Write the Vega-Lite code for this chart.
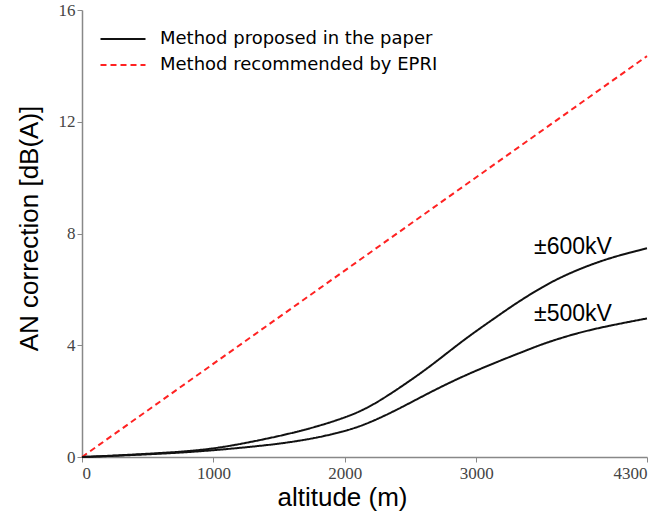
{
  "$schema": "https://vega.github.io/schema/vega-lite/v6.json",
  "width": 565,
  "height": 447,
  "autosize": {"type": "none"},
  "padding": {"left": 82, "top": 10, "right": 24, "bottom": 58},
  "background": "white",
  "config": {
    "view": {"stroke": null},
    "axis": {
      "grid": false,
      "domainColor": "#888888",
      "domainWidth": 1.5,
      "tickColor": "#888888",
      "tickSize": 5,
      "labelFont": "Liberation Serif",
      "labelFontSize": 17,
      "labelColor": "#444444",
      "titleFont": "Liberation Sans",
      "titleFontSize": 26,
      "titleFontWeight": "normal",
      "titleColor": "#000000"
    }
  },
  "layer": [
    {
      "data": {
        "values": [
          {"alt": 0, "val": 0, "method": "Method recommended by EPRI", "v": "EPRI"},
          {"alt": 4300, "val": 14.35, "method": "Method recommended by EPRI", "v": "EPRI"},
          {"alt": 0, "val": 0, "method": "Method proposed in the paper", "v": "600"},
          {"alt": 250, "val": 0.05, "method": "Method proposed in the paper", "v": "600"},
          {"alt": 518, "val": 0.12, "method": "Method proposed in the paper", "v": "600"},
          {"alt": 771, "val": 0.19, "method": "Method proposed in the paper", "v": "600"},
          {"alt": 1025, "val": 0.31, "method": "Method proposed in the paper", "v": "600"},
          {"alt": 1279, "val": 0.53, "method": "Method proposed in the paper", "v": "600"},
          {"alt": 1533, "val": 0.78, "method": "Method proposed in the paper", "v": "600"},
          {"alt": 1786, "val": 1.08, "method": "Method proposed in the paper", "v": "600"},
          {"alt": 2041, "val": 1.47, "method": "Method proposed in the paper", "v": "600"},
          {"alt": 2200, "val": 1.82, "method": "Method proposed in the paper", "v": "600"},
          {"alt": 2395, "val": 2.4, "method": "Method proposed in the paper", "v": "600"},
          {"alt": 2649, "val": 3.23, "method": "Method proposed in the paper", "v": "600"},
          {"alt": 2902, "val": 4.19, "method": "Method proposed in the paper", "v": "600"},
          {"alt": 3156, "val": 5.02, "method": "Method proposed in the paper", "v": "600"},
          {"alt": 3283, "val": 5.44, "method": "Method proposed in the paper", "v": "600"},
          {"alt": 3537, "val": 6.2, "method": "Method proposed in the paper", "v": "600"},
          {"alt": 3790, "val": 6.75, "method": "Method proposed in the paper", "v": "600"},
          {"alt": 4044, "val": 7.17, "method": "Method proposed in the paper", "v": "600"},
          {"alt": 4300, "val": 7.47, "method": "Method proposed in the paper", "v": "600"},
          {"alt": 0, "val": 0, "method": "Method proposed in the paper", "v": "500"},
          {"alt": 250, "val": 0.04, "method": "Method proposed in the paper", "v": "500"},
          {"alt": 518, "val": 0.1, "method": "Method proposed in the paper", "v": "500"},
          {"alt": 771, "val": 0.16, "method": "Method proposed in the paper", "v": "500"},
          {"alt": 1025, "val": 0.25, "method": "Method proposed in the paper", "v": "500"},
          {"alt": 1279, "val": 0.36, "method": "Method proposed in the paper", "v": "500"},
          {"alt": 1533, "val": 0.49, "method": "Method proposed in the paper", "v": "500"},
          {"alt": 1786, "val": 0.68, "method": "Method proposed in the paper", "v": "500"},
          {"alt": 2041, "val": 0.97, "method": "Method proposed in the paper", "v": "500"},
          {"alt": 2200, "val": 1.25, "method": "Method proposed in the paper", "v": "500"},
          {"alt": 2395, "val": 1.68, "method": "Method proposed in the paper", "v": "500"},
          {"alt": 2649, "val": 2.32, "method": "Method proposed in the paper", "v": "500"},
          {"alt": 2902, "val": 2.9, "method": "Method proposed in the paper", "v": "500"},
          {"alt": 3156, "val": 3.4, "method": "Method proposed in the paper", "v": "500"},
          {"alt": 3410, "val": 3.87, "method": "Method proposed in the paper", "v": "500"},
          {"alt": 3537, "val": 4.1, "method": "Method proposed in the paper", "v": "500"},
          {"alt": 3790, "val": 4.47, "method": "Method proposed in the paper", "v": "500"},
          {"alt": 4044, "val": 4.73, "method": "Method proposed in the paper", "v": "500"},
          {"alt": 4300, "val": 4.96, "method": "Method proposed in the paper", "v": "500"}
        ]
      },
      "mark": {"type": "line", "strokeWidth": 2, "interpolate": "basis"},
      "encoding": {
        "x": {
          "field": "alt", "type": "quantitative",
          "scale": {"domain": [0, 4300], "nice": false},
          "axis": {"values": [0, 1000, 2000, 3000, 4300], "format": "d", "title": "altitude (m)", "titlePadding": 3, "titleX": 260, "labelPadding": 3}
        },
        "y": {
          "field": "val", "type": "quantitative",
          "scale": {"domain": [0, 16], "nice": false},
          "axis": {"values": [0, 4, 8, 12, 16], "title": "AN correction [dB(A)]", "titlePadding": 16, "titleY": 218}
        },
        "detail": {"field": "v"},
        "color": {
          "field": "method", "type": "nominal",
          "scale": {"domain": ["Method proposed in the paper", "Method recommended by EPRI"], "range": ["#111111", "#ff2222"]},
          "legend": {
            "title": null, "orient": "none", "legendX": 30, "legendY": 18,
            "symbolType": "M-2.25,0H2.25", "symbolSize": 400, "symbolStrokeWidth": 2,
            "labelFont": "DejaVu Sans", "labelFontSize": 18, "labelColor": "#000000", "labelLimit": 0,
            "rowPadding": 6, "labelOffset": 26
          }
        },
        "strokeDash": {
          "field": "method", "type": "nominal",
          "scale": {"domain": ["Method proposed in the paper", "Method recommended by EPRI"], "range": [[1, 0], [6, 4]]},
          "legend": null
        }
      }
    },
    {
      "data": {
        "values": [
          {"alt": 3737, "val": 7.5, "label": "±600kV"},
          {"alt": 3737, "val": 5.12, "label": "±500kV"}
        ]
      },
      "mark": {"type": "text", "font": "Liberation Sans", "fontSize": 23, "color": "#000000", "align": "center", "baseline": "middle"},
      "encoding": {
        "x": {"field": "alt", "type": "quantitative"},
        "y": {"field": "val", "type": "quantitative"},
        "text": {"field": "label"}
      }
    }
  ]
}
